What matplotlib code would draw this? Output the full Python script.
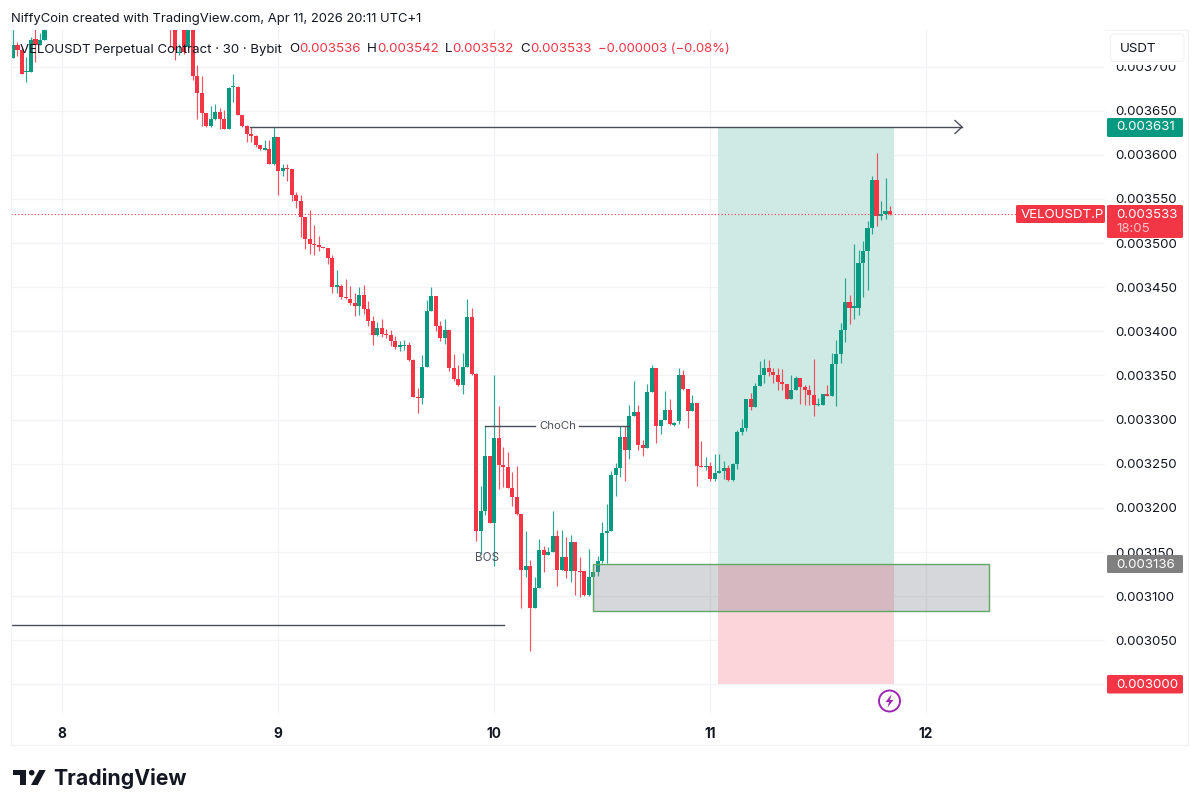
import matplotlib
matplotlib.use("Agg")
import matplotlib.pyplot as plt
from matplotlib.patches import Rectangle, Circle, Polygon, FancyBboxPatch

plt.rcParams['font.family'] = ['Inter', 'DejaVu Sans']

# prices are in millionths of USDT (3533 = 0.003533)
# first run of bars, then the chart leaves the pane at the top
bar_minutes = 30
start_a = 7.7729
open_a = [3710,3724,3719,3694,3694,3731,3724,3730]
high_a = [3745,3728,3722,3711,3734,3745,3738,3748]
low_a = [3710,3712,3692,3683,3694,3705,3724,3730]
close_a = [3724,3719,3692,3695,3730,3724,3730,3745]

# bars coming back into the pane, the last one is Apr 11 20:00
start_b = start_a + 35 * bar_minutes / 1440
open_b = [3760,3745,3715,3742,3722,3745,3689,3670,3647,3633,
          3641,3649,3641,3629,3677,3677,3645,3633,3624,3621,
          3611,3606,3607,3590,3620,3582,3585,3584,3554,3548,
          3530,3505,3499,3498,3496,3494,3483,3450,3451,3439,
          3437,3432,3429,3441,3425,3412,3396,3404,3397,3396,
          3389,3382,3383,3385,3368,3326,3324,3360,3423,3440,
          3406,3392,3402,3359,3346,3339,3360,3416,3352,3174,
          3196,3259,3183,3279,3249,3246,3222,3212,3193,3130,
          3134,3087,3109,3152,3147,3150,3168,3130,3144,3128,
          3161,3128,3128,3101,3122,3127,3140,3171,3174,3237,
          3245,3280,3265,3304,3309,3271,3268,3331,3358,3293,
          3299,3311,3294,3298,3351,3335,3310,3319,3247,3246,
          3247,3233,3240,3242,3245,3232,3250,3286,3291,3323,
          3314,3338,3350,3359,3354,3351,3343,3340,3323,3334,
          3347,3337,3334,3328,3316,3317,3329,3327,3363,3374,
          3402,3433,3427,3427,3477,3491,3517,3571,3531,3533,3536]
high_b = [3765,3750,3726,3748,3748,3750,3702,3689,3647,3655,
          3657,3653,3651,3677,3691,3678,3645,3634,3632,3622,
          3611,3617,3617,3631,3620,3590,3590,3584,3558,3554,
          3530,3537,3521,3508,3496,3494,3487,3470,3454,3459,
          3451,3443,3450,3453,3434,3417,3411,3414,3403,3402,
          3395,3389,3390,3388,3369,3336,3373,3436,3450,3440,
          3412,3414,3402,3374,3362,3376,3437,3427,3353,3225,
          3293,3259,3351,3315,3269,3263,3241,3247,3193,3174,
          3141,3122,3165,3157,3156,3197,3175,3175,3167,3169,
          3161,3144,3128,3153,3136,3146,3184,3204,3242,3251,
          3293,3293,3317,3344,3317,3277,3340,3362,3358,3299,
          3332,3323,3297,3358,3356,3335,3328,3319,3276,3258,
          3252,3261,3261,3253,3249,3251,3288,3301,3323,3330,
          3342,3366,3369,3368,3358,3358,3357,3340,3350,3349,
          3347,3339,3339,3369,3324,3329,3339,3375,3390,3409,
          3460,3441,3499,3492,3502,3525,3576,3602,3548,3574,3542]
low_b = [3722,3707,3713,3714,3722,3685,3641,3633,3632,3632,
         3640,3629,3629,3629,3660,3645,3632,3615,3615,3609,
         3606,3605,3590,3588,3555,3576,3570,3548,3540,3507,
         3493,3488,3487,3491,3494,3476,3444,3443,3437,3437,
         3430,3417,3418,3420,3406,3385,3395,3394,3392,3383,
         3380,3378,3379,3366,3326,3308,3318,3360,3423,3400,
         3389,3386,3355,3344,3338,3329,3360,3351,3162,3148,
         3192,3183,3134,3221,3224,3222,3202,3192,3087,3122,
         3038,3087,3109,3127,3147,3150,3111,3130,3120,3116,
         3101,3099,3100,3100,3122,3123,3137,3137,3174,3213,
         3235,3230,3255,3304,3266,3259,3268,3331,3274,3284,
         3299,3294,3293,3295,3334,3291,3310,3225,3246,3243,
         3230,3231,3240,3233,3231,3231,3244,3283,3287,3311,
         3314,3338,3341,3349,3342,3334,3334,3323,3323,3334,
         3318,3316,3317,3304,3315,3317,3327,3327,3315,3364,
         3388,3408,3414,3419,3439,3447,3510,3519,3526,3527,3532]
close_b = [3745,3719,3716,3716,3745,3689,3670,3647,3633,3641,
           3649,3641,3629,3676,3678,3645,3633,3624,3621,3611,
           3607,3607,3590,3620,3582,3585,3584,3554,3548,3530,
           3505,3499,3498,3495,3494,3483,3450,3452,3439,3438,
           3432,3429,3441,3425,3412,3396,3404,3397,3396,3389,
           3382,3384,3384,3368,3326,3324,3360,3423,3440,3406,
           3392,3402,3359,3346,3339,3360,3416,3352,3174,3196,
           3259,3183,3279,3249,3246,3222,3212,3193,3130,3134,
           3087,3109,3152,3147,3150,3168,3130,3144,3128,3161,
           3128,3127,3101,3122,3127,3140,3171,3174,3237,3245,
           3280,3265,3304,3309,3271,3268,3331,3358,3293,3299,
           3311,3295,3296,3351,3335,3310,3319,3247,3246,3248,
           3233,3240,3242,3245,3232,3250,3286,3291,3323,3314,
           3338,3350,3359,3354,3351,3343,3340,3323,3334,3347,
           3337,3334,3328,3316,3317,3329,3327,3363,3374,3402,
           3433,3427,3428,3477,3491,3517,3571,3531,3533,3536,3533]

price_ticks = [3000,3050,3100,3150,3200,3250,3300,3350,3400,3450,3500,3550,3600,3650,3700]
day_ticks = [8,9,10,11,12]

last_price = 3533
tp_price = 3631
entry_price = 3136
sl_price = 3000
low_line_price = 3067
zone_top = 3136
zone_bottom = 3083
choch_price = 3293

GREEN = "#089981"
RED = "#f23645"
DARK = "#131722"
LINE = "#4a4d57"
GRID = "#f2f3f6"

fig = plt.figure(figsize=(12, 8.11), dpi=100, facecolor="white")

# pane is 11..1105 px wide and 30..713 px high
ax = fig.add_axes([11 / 1200, 1 - 713 / 811, 1094 / 1200, 683 / 811])
ax.set_xlim(7.7638, 12.831)
ax.set_ylim(2967.6, 3741.4)
ax.set_axisbelow(True)
ax.grid(True, color=GRID, lw=0.9)
for s in ax.spines.values():
    s.set_visible(False)
ax.yaxis.tick_right()
ax.set_yticks(price_ticks)
ax.set_yticklabels(["%.6f" % (p / 1e6) for p in price_ticks], fontsize=9.6, color=DARK)
ax.set_xticks(day_ticks)
ax.set_xticklabels([str(d) for d in day_ticks], fontsize=9.8, color=DARK, fontweight="bold")
ax.tick_params(axis="y", length=0, pad=7.5)
ax.tick_params(axis="x", length=0, pad=10)

# long position tool
ax.add_patch(Rectangle((11.04, entry_price), 0.815, tp_price - entry_price, fc="#cfeae5", ec="none", zorder=1))
ax.add_patch(Rectangle((11.04, sl_price), 0.815, entry_price - sl_price, fc="#fcd5da", ec="none", zorder=1))


def candles(start, o, h, l, c):
    for i in range(len(o)):
        x = start + i * bar_minutes / 1440
        col = GREEN if c[i] >= o[i] else RED
        ax.vlines(x, l[i], h[i], color=col, lw=0.85, alpha=0.85, zorder=3)
        ax.bar(x, max(abs(c[i] - o[i]), 1.3), bottom=min(o[i], c[i]), width=0.0192, color=col, lw=0, zorder=3)


candles(start_a, open_a, high_a, low_a, close_a)
candles(start_b, open_b, high_b, low_b, close_b)

ax.axhline(last_price, color=RED, lw=0.8, ls=(0, (1, 2)), zorder=2)

# demand zone
ax.add_patch(Rectangle((10.461, zone_bottom), 1.831, zone_top - zone_bottom,
                       fc=(120 / 255, 123 / 255, 134 / 255, 0.3), ec="#5fa964", lw=1.0, zorder=4))

# drawings
ax.plot([8.871, 12.169], [tp_price, tp_price], color=LINE, lw=1.0, zorder=5)
ax.plot([7.7638, 10.047], [low_line_price, low_line_price], color=LINE, lw=1.0, zorder=5)
ax.plot([9.96, 10.19], [choch_price, choch_price], color=LINE, lw=1.0, zorder=5)
ax.plot([10.395, 10.625], [choch_price, choch_price], color=LINE, lw=1.0, zorder=5)
ax.text(10.295, choch_price, "ChoCh", fontsize=8.2, color="#50535e", ha="center", va="center", zorder=5)
ax.text(9.968, 3143, "BOS", fontsize=8.4, color="#50535e", ha="center", va="center", zorder=5)

# everything outside the price scale goes on a pixel overlay
ov = fig.add_axes([0, 0, 1, 1], facecolor="none")
ov.set_xlim(0, 1200)
ov.set_ylim(811, 0)
ov.axis("off")

ov.plot([955, 962, 955], [120.5, 127, 133.5], color=LINE, lw=1.0)

# frame
ov.plot([11, 11, 1188, 1188], [30, 745, 745, 30], color="#f0f1f4", lw=0.9)
ov.plot([1105, 1188], [30, 30], color="#f0f1f4", lw=0.9)

# USDT button, the white gutter under it cuts the top tick label
ov.add_patch(Rectangle((1106, 31), 81, 34, fc="white", ec="none", zorder=2))
ov.add_patch(FancyBboxPatch((1110.5, 34), 73.5, 27.5, boxstyle="round,pad=0,rounding_size=4", fc="white", ec="#f0f1f4", lw=0.8, zorder=3))
ov.text(1120, 49, "USDT", fontsize=9.6, color=DARK, va="center", zorder=4)


def tag(x0, x1, y0, y1, col, txt, txt_y, txt_x=1116):
    ov.add_patch(FancyBboxPatch((x0, y0), x1 - x0, y1 - y0, boxstyle="round,pad=0,rounding_size=1.5", fc=col, ec="none", zorder=3))
    ov.text(txt_x, txt_y, txt, fontsize=9.6, color="white", va="center", zorder=4)


tag(1107, 1183, 118, 137, GREEN, "0.003631", 127.5)
tag(1107, 1183, 555, 573, "#808080", "0.003136", 564.5)
tag(1107, 1183, 675, 693.5, RED, "0.003000", 684.5)
tag(1107, 1183, 205, 238, RED, "0.003533", 214.5)
ov.text(1116, 229.5, "18:05", fontsize=9.6, color="#fbc1c7", va="center", zorder=4)
tag(1016, 1105, 205, 223, RED, "VELOUSDT.P", 214.5, 1021)

# header
ov.text(11, 19, "NiffyCoin created with TradingView.com, Apr 11, 2026 20:11 UTC+1", fontsize=9.4, color=DARK, va="center")
ov.text(20, 49.5, "VELOUSDT Perpetual Contract · 30 · Bybit", fontsize=9.5, color=DARK, va="center")
ov.text(289, 49.5, "O", fontsize=9.6, color=DARK, va="center")
ov.text(299, 49.5, "0.003536", fontsize=9.6, color=RED, va="center")
ov.text(367, 49.5, "H", fontsize=9.6, color=DARK, va="center")
ov.text(377, 49.5, "0.003542", fontsize=9.6, color=RED, va="center")
ov.text(445, 49.5, "L", fontsize=9.6, color=DARK, va="center")
ov.text(452, 49.5, "0.003532", fontsize=9.6, color=RED, va="center")
ov.text(520, 49.5, "C", fontsize=9.6, color=DARK, va="center")
ov.text(530, 49.5, "0.003533", fontsize=9.6, color=RED, va="center")
ov.text(598, 49.5, "\u22120.000003 (\u22120.08%)", fontsize=9.4, color=RED, va="center")

# lightning mark
ov.add_patch(Circle((889.5, 701), 10.5, fc="white", ec="#9c27b0", lw=1.4))
ov.add_patch(Polygon([(891.5, 694.5), (885.5, 702), (889, 702), (887.5, 707.5), (893.5, 700), (890, 700)], fc="#9c27b0", ec="none"))

# logo
ov.add_patch(Polygon([(13.3, 770), (26, 770), (26, 785), (19.5, 785), (19.5, 775), (13.3, 775)], fc=DARK, ec="none"))
ov.add_patch(Circle((31.7, 772.7), 2.8, fc=DARK, ec="none"))
ov.add_patch(Polygon([(39.3, 770), (45.7, 770), (37.7, 785), (31, 785)], fc=DARK, ec="none"))
ov.text(53, 785, "TradingView", fontsize=15.3, color=DARK, fontweight="bold", va="baseline")

fig.savefig("out.png", dpi=100)
